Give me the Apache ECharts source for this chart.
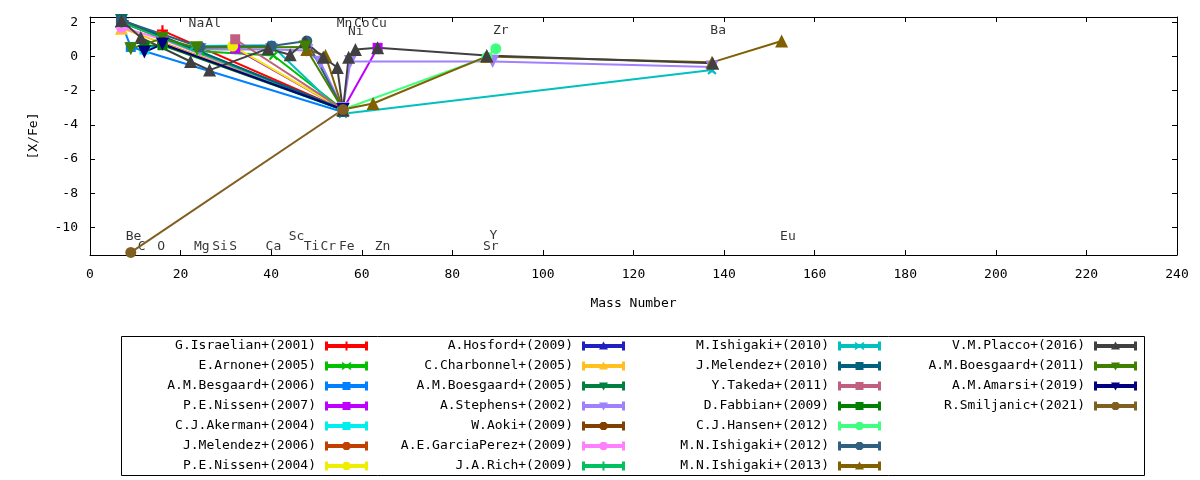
<!DOCTYPE html>
<html>
<head>
<meta charset="utf-8">
<script src="https://cdn.jsdelivr.net/npm/echarts@6/dist/echarts.min.js"></script>
<style>
html,body{margin:0;padding:0;background:#fff}
#main{width:1200px;height:480px}
</style>
</head>
<body>
<div id="main"></div>
<script>
// [mass number, [X/Fe]] pairs, one list per paper
var israelian2001  = [[16.0, 1.5], [55.85, -3.1]];
var arnone2005     = [[24.3, 0.3], [40.5, 0.05], [55.85, -3.1]];
var besgaard2006   = [[6.94, 1.95], [9.01, 0.55], [55.85, -3.25]];
var nissen2007     = [[32.06, 0.45], [55.85, -3.1], [63.5, 0.5]];
var akerman2004    = [[12.01, 0.4], [16.0, 0.75], [55.85, -3.15]];
var melendez2006   = [[16.0, 0.8], [55.85, -3.1]];
var nissen2004     = [[31.5, 0.6], [55.85, -3.1]];
var hosford2009    = [[6.94, 2.05], [55.85, -3.1]];
var charbonnel2005 = [[6.94, 1.65], [55.85, -3.05]];
var boesgaard2005  = [[6.94, 2.1], [55.85, -3.1]];
var stephens2002   = [[24.3, 0.4], [40.08, 0.4], [47.87, 0.35], [50.9, -0.35], [55.85, -3.05], [57.5, -0.3], [88.9, -0.3], [137.33, -0.62]];
var aoki2009       = [[6.94, 2.0], [55.85, -3.15]];
var garciaPerez2009 = [[6.94, 1.7], [16.0, 1.0], [55.85, -3.1]];
var rich2009       = [[6.94, 2.0], [55.85, -3.1]];
var ishigaki2010   = [[22.99, 0.6], [40.08, 0.65], [55.85, -3.35], [137.33, -0.8]];
var melendez2010   = [[6.94, 2.15], [55.85, -3.1]];
var takeda2011     = [[32.06, 1.0], [55.85, -3.1]];
var fabbian2009    = [[12.01, 0.6], [16.0, 0.65], [55.85, -3.1]];
var hansen2012     = [[55.85, -3.1], [87.62, -0.05], [89.6, 0.45]];
var ishigakiN2012  = [[6.94, 2.1], [24.3, 0.55], [40.08, 0.6], [47.87, 0.9], [55.85, -3.1]];
var ishigakiN2013  = [[47.87, 0.4], [52.0, 0.05], [55.85, -3.1], [62.5, -2.75], [87.62, 0.0], [137.33, -0.35], [152.7, 0.9]];
var placco2016     = [[6.94, 2.1], [11.2, 1.1], [22.2, -0.3], [26.4, -0.8], [39.3, 0.45], [44.2, 0.1], [47.5, 0.85], [51.5, -0.05], [54.6, -0.65], [55.85, -3.15], [57.1, -0.05], [58.6, 0.4], [63.5, 0.5], [87.6, 0.05], [137.5, -0.4]];
var boesgaard2011  = [[9.01, 0.45], [16.0, 1.05], [23.5, 0.5], [47.5, 0.55], [55.85, -3.1]];
var amarsi2019     = [[12.01, 0.25], [16.0, 0.72], [55.85, -3.1]];
var smiljanic2021  = [[9.01, -11.45], [55.85, -3.1]];

var seriesNames = [
  'G.Israelian+(2001)', 'E.Arnone+(2005)', 'A.M.Besgaard+(2006)', 'P.E.Nissen+(2007)',
  'C.J.Akerman+(2004)', 'J.Melendez+(2006)', 'P.E.Nissen+(2004)',
  'A.Hosford+(2009)', 'C.Charbonnel+(2005)', 'A.M.Boesgaard+(2005)', 'A.Stephens+(2002)',
  'W.Aoki+(2009)', 'A.E.GarciaPerez+(2009)', 'J.A.Rich+(2009)',
  'M.Ishigaki+(2010)', 'J.Melendez+(2010)', 'Y.Takeda+(2011)', 'D.Fabbian+(2009)',
  'C.J.Hansen+(2012)', 'M.N.Ishigaki+(2012)', 'M.N.Ishigaki+(2013)',
  'V.M.Placco+(2016)', 'A.M.Boesgaard+(2011)', 'A.M.Amarsi+(2019)', 'R.Smiljanic+(2021)'
];
var seriesData = [
  israelian2001, arnone2005, besgaard2006, nissen2007, akerman2004, melendez2006, nissen2004,
  hosford2009, charbonnel2005, boesgaard2005, stephens2002, aoki2009, garciaPerez2009, rich2009,
  ishigaki2010, melendez2010, takeda2011, fabbian2009, hansen2012, ishigakiN2012, ishigakiN2013,
  placco2016, boesgaard2011, amarsi2019, smiljanic2021
];

// element names written inside the frame
var elemNames = ['Li', 'Na', 'Al', 'Mn', 'Co', 'Cu', 'Ni', 'Zr', 'Ba',
                 'Be', 'C', 'O', 'Mg', 'Si', 'S', 'Ca', 'Sc', 'Ti', 'Cr', 'Fe', 'Zn', 'Y', 'Sr', 'Eu'];
var elemX = [7.5, 23.5, 27.2, 56.2, 60.0, 63.8, 58.7, 90.7, 138.7,
             9.6, 11.4, 15.7, 24.7, 28.7, 31.6, 40.5, 45.6, 48.9, 52.6, 56.7, 64.6, 89.05, 88.5, 154.1];
var elemY = [1.9, 1.9, 1.9, 1.9, 1.9, 1.9, 1.47, 1.5, 1.5,
             -10.55, -11.14, -11.14, -11.14, -11.14, -11.14, -11.14, -10.55, -11.14, -11.14, -11.14, -11.14, -10.45, -11.14, -10.55];

var yTicks = [-10, -8, -6, -4, -2, 0, 2];

var colors = ['#ff0000', '#00c000', '#0080ff', '#c000ff', '#00eeee', '#c04000', '#eeee00',
              '#2020c0', '#ffc020', '#008040', '#a080ff', '#804000', '#ff80ff', '#00c060',
              '#00c0c0', '#006080', '#c06080', '#008000', '#40ff80', '#306080', '#806000',
              '#404040', '#408000', '#000080', '#806020'];
var markers = ['plus', 'cross', 'rect', 'rect', 'rect', 'circle', 'circle',
               'triangle', 'triangle', 'invtri', 'invtri', 'circle', 'circle', 'plus',
               'cross', 'rect', 'rect', 'rect', 'circle', 'circle', 'triangle',
               'triangle', 'invtri', 'invtri', 'circle'];

var FONT = 'DejaVu Sans Mono';
var plusPath = 'path://M4,0H6V4H10V6H6V10H4V6H0V4H4Z';

function plotSymbol(m) {
  if (m == 'plus') return {symbol: plusPath, symbolSize: 11, symbolRotate: 0};
  if (m == 'cross') return {symbol: plusPath, symbolSize: 11, symbolRotate: 45};
  if (m == 'rect') return {symbol: 'rect', symbolSize: 10, symbolRotate: 0};
  if (m == 'circle') return {symbol: 'circle', symbolSize: 11, symbolRotate: 0};
  if (m == 'triangle') return {symbol: 'triangle', symbolSize: 13, symbolRotate: 0};
  return {symbol: 'triangle', symbolSize: 13, symbolRotate: 180};
}

// legend sample: bar with end caps and the point in the middle
var sampleBase = 'M0,0H3V9H0Z M40,0H43V9H40Z M0,2.5H43V6.5H0Z ';
var sampleMarks = {
  plus: 'M20.5,0H22.5V3.5H26V5.5H22.5V9H20.5V5.5H17V3.5H20.5Z',
  cross: 'M17.5,0.5L21.5,3.5L25.5,0.5L26.5,1.5L23,4.5L26.5,7.5L25.5,8.5L21.5,5.5L17.5,8.5L16.5,7.5L20,4.5L16.5,1.5Z',
  rect: 'M17.5,0.5H25.5V8.5H17.5Z',
  circle: 'M19.5,0.5H23.5L25.5,2.5V6.5L23.5,8.5H19.5L17.5,6.5V2.5Z',
  triangle: 'M21.5,0L26,8H17Z',
  invtri: 'M17,1H26L21.5,9Z'
};

var series = [];
for (var i = 0; i < seriesNames.length; i++) {
  var s = plotSymbol(markers[i]);
  series.push({
    name: seriesNames[i],
    type: 'line',
    data: seriesData[i],
    symbol: s.symbol,
    symbolSize: s.symbolSize,
    symbolRotate: s.symbolRotate,
    color: colors[i],
    lineStyle: {width: 2, color: colors[i]},
    itemStyle: {color: colors[i], borderWidth: 0},
    z: 2
  });
}

var labelData = [];
for (var k = 0; k < elemNames.length; k++) {
  labelData.push({name: elemNames[k], value: [elemX[k], elemY[k]]});
}
series.push({
  name: 'elements',
  type: 'scatter',
  data: labelData,
  symbolSize: 1,
  itemStyle: {color: 'rgba(0,0,0,0)'},
  label: {show: true, position: 'inside', formatter: '{b}', color: '#000',
          fontFamily: FONT, fontSize: 13},
  z: 1,
  silent: true
});

var colRight = [368, 625, 881, 1137];
var colStart = [0, 7, 14, 21];
var colEnd = [7, 14, 21, 25];
var legends = [];
for (var c = 0; c < 4; c++) {
  var items = [];
  for (var j = colStart[c]; j < colEnd[c]; j++) {
    items.push({name: seriesNames[j], icon: 'path://' + sampleBase + sampleMarks[markers[j]]});
  }
  legends.push({
    data: items,
    orient: 'vertical',
    align: 'right',
    right: 1200 - colRight[c],
    top: 338,
    padding: 0,
    itemWidth: 43,
    itemHeight: 9,
    itemGap: 4,
    selectedMode: false,
    itemStyle: {borderWidth: 0},
    textStyle: {fontFamily: FONT, fontSize: 13, color: '#000', lineHeight: 16, padding: [0, 4, 0, 0]}
  });
}

var axisText = {fontFamily: FONT, fontSize: 13, color: '#000'};
var frameLine = {show: true, onZero: false, lineStyle: {color: '#000', width: 1}};
var inTick = {show: true, inside: true, length: 5, lineStyle: {color: '#000'}};

var option = {
  animation: false,
  backgroundColor: '#fff',
  grid: {left: 90, right: 23, top: 17, bottom: 225},
  legend: legends,
  xAxis: [{
    type: 'value', min: 0, max: 240, interval: 20, position: 'bottom',
    name: 'Mass Number', nameLocation: 'middle', nameGap: 42,
    nameTextStyle: axisText,
    axisLine: frameLine,
    axisTick: inTick,
    axisLabel: {margin: 13, fontFamily: FONT, fontSize: 13, color: '#000'},
    splitLine: {show: false}
  }, {
    type: 'value', min: 0, max: 240, interval: 20, position: 'top',
    axisLine: frameLine,
    axisTick: inTick,
    axisLabel: {show: false},
    splitLine: {show: false}
  }],
  yAxis: [{
    type: 'value', min: -11.6, max: 2.3, position: 'left',
    name: '[X/Fe]', nameLocation: 'middle', nameGap: 50, nameRotate: 90,
    nameTextStyle: axisText,
    axisLine: frameLine,
    axisTick: {show: true, inside: true, length: 5, customValues: yTicks, lineStyle: {color: '#000'}},
    axisLabel: {margin: 12, customValues: yTicks, fontFamily: FONT, fontSize: 13, color: '#000'},
    splitLine: {show: false}
  }, {
    type: 'value', min: -11.6, max: 2.3, position: 'right',
    axisLine: frameLine,
    axisTick: {show: true, inside: true, length: 5, customValues: yTicks, lineStyle: {color: '#000'}},
    axisLabel: {show: false},
    splitLine: {show: false}
  }],
  graphic: [{
    type: 'rect',
    shape: {x: 121.5, y: 336.5, width: 1023, height: 139},
    style: {fill: 'none', stroke: '#000', lineWidth: 1},
    silent: true
  }],
  series: series
};

var chart = echarts.init(document.getElementById('main'));
chart.setOption(option);
</script>
</body>
</html>
